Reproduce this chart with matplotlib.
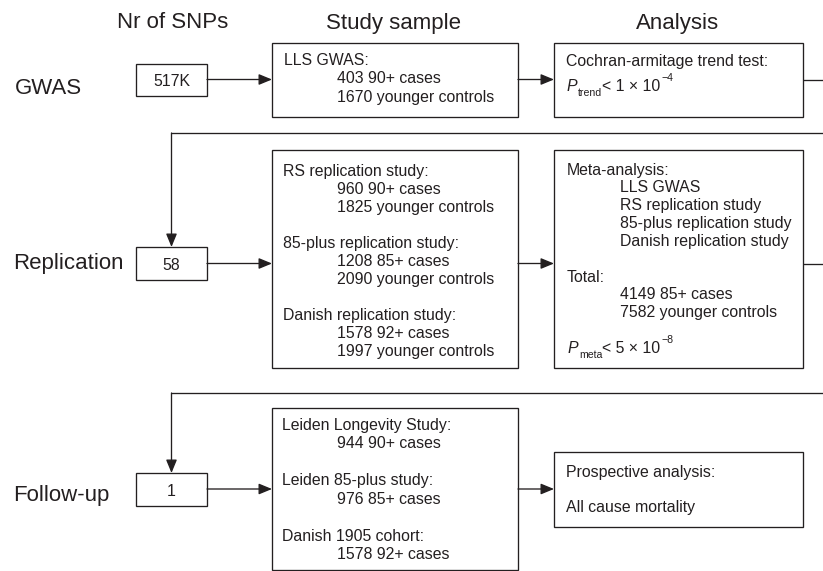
import matplotlib
matplotlib.use("Agg")
import matplotlib.pyplot as plt
from matplotlib.patches import Rectangle

# ---------------- content ----------------
column_headers = ["Nr of SNPs", "Study sample", "Analysis"]
row_labels = ["GWAS", "Replication", "Follow-up"]
snp_counts = ["517K", "58", "1"]

# "\t" marks an indented line, "" a blank line; a list of pieces is rich text
sample_gwas = ["LLS GWAS:", "\t403 90+ cases", "\t1670 younger controls"]
sample_replication = ["RS replication study:", "\t960 90+ cases", "\t1825 younger controls", "",
                      "85-plus replication study:", "\t1208 85+ cases", "\t2090 younger controls", "",
                      "Danish replication study:", "\t1578 92+ cases", "\t1997 younger controls"]
sample_followup = ["Leiden Longevity Study:", "\t944 90+ cases", "",
                   "Leiden 85-plus study:", "\t976 85+ cases", "",
                   "Danish 1905 cohort:", "\t1578 92+ cases"]
analysis_gwas = ["Cochran-armitage trend test:",
                 [("P", "it"), ("trend", "sub"), ("< 1 × 10", "rm"), ("\u22124", "sup")]]
analysis_replication = ["Meta-analysis:", "\tLLS GWAS", "\tRS replication study",
                        "\t85-plus replication study", "\tDanish replication study", "",
                        "Total:", "\t4149 85+ cases", "\t7582 younger controls", "",
                        [("P", "it"), ("meta", "sub"), ("< 5 × 10", "rm"), ("\u22128", "sup")]]
analysis_followup = ["Prospective analysis:", "", "All cause mortality"]

# ---------------- style ----------------
plt.rcParams["font.family"] = ["Liberation Sans", "DejaVu Sans"]

INK = "#231f20"
LW = 0.95
FS_BOX = 11.4
FS_SMALL = 7.6
FS_BIG = 16

W, H = 823, 571
fig = plt.figure(figsize=(W / 100, H / 100), dpi=100)
ax = fig.add_axes([0, 0, 1, 1])
ax.set_xlim(0, W)
ax.set_ylim(H, 0)
ax.axis("off")
renderer = fig.canvas.get_renderer()


def box(x0, y0, x1, y1):
    ax.add_patch(Rectangle((x0, y0), x1 - x0, y1 - y0, fill=False,
                           edgecolor=INK, lw=LW, joinstyle="miter"))


def arrow(x0, y0, x1, y1):
    ax.annotate("", xy=(x1, y1), xytext=(x0, y0),
                arrowprops=dict(arrowstyle="-|>,head_length=0.8,head_width=0.33",
                                color=INK, lw=LW, shrinkA=0, shrinkB=0,
                                mutation_scale=10))


def line(xs, ys):
    ax.plot(xs, ys, color=INK, lw=LW, solid_capstyle="butt", solid_joinstyle="miter")


def rich(x, yb, pieces):
    for txt, kind in pieces:
        if kind == "it":
            t = ax.text(x, yb, txt, fontsize=FS_BOX, style="italic", color=INK,
                        ha="left", va="baseline")
        elif kind == "sub":
            t = ax.text(x + 0.5, yb + 5, txt, fontsize=FS_SMALL, color=INK,
                        ha="left", va="baseline")
        elif kind == "sup":
            t = ax.text(x + 0.5, yb - 10, txt, fontsize=FS_SMALL, color=INK,
                        ha="left", va="baseline")
        else:
            t = ax.text(x, yb, txt, fontsize=FS_BOX, color=INK, ha="left", va="baseline")
        bb = t.get_window_extent(renderer=renderer)
        x = bb.x1


def box_text(lines, x_label, x_indent, y0, dy):
    for i, t in enumerate(lines):
        if not t:
            continue
        yb = y0 + i * dy + 5.7
        if isinstance(t, list):
            rich(x_label + 1, yb, t)
            continue
        x = x_indent if t.startswith("\t") else x_label
        ax.text(x, yb, t.lstrip("\t"), fontsize=FS_BOX, color=INK,
                ha="left", va="baseline")


# ---------------- headers & row labels ----------------
for txt, xc in zip(column_headers, [173, 394, 678]):
    ax.text(xc, 28.5, txt, fontsize=FS_BIG, color=INK, ha="center", va="baseline")

for txt, (xl, yb) in zip(row_labels, [(15, 93.5), (13, 268.5), (13, 501.5)]):
    ax.text(xl, yb, txt, fontsize=FS_BIG, color=INK, ha="left", va="baseline")

# ---------------- layout ----------------
snp_x0, snp_x1 = 136, 207
mid_x0, mid_x1 = 272, 518
ana_x0, ana_x1 = 554, 803
snp_cx = (snp_x0 + snp_x1) / 2

snp_boxes = [(64, 96), (247, 280), (473, 506)]
mid_boxes = [(43, 117), (150, 368), (408, 570)]
ana_boxes = [(43, 117), (150, 368), (452, 527)]
row_y = [79.5, 263.5, 489]

for (y0, y1), txt in zip(snp_boxes, snp_counts):
    box(snp_x0, y0, snp_x1, y1)
    ax.text(snp_cx, (y0 + y1) / 2 + 6.5, txt, fontsize=FS_BOX, color=INK,
            ha="center", va="baseline")

for (y0, y1) in mid_boxes:
    box(mid_x0, y0, mid_x1, y1)
for (y0, y1) in ana_boxes:
    box(ana_x0, y0, ana_x1, y1)

for ry in row_y:
    arrow(snp_x1, ry, mid_x0, ry)
    arrow(mid_x1, ry, ana_x0, ry)

# connectors running off the right edge and back to the next row
line([ana_x1, W + 5], [row_y[0], row_y[0]])
line([ana_x1, W + 5], [row_y[1], row_y[1]])
line([snp_cx, W + 5], [133, 133])
arrow(snp_cx, 133, snp_cx, snp_boxes[1][0])
line([snp_cx, W + 5], [393, 393])
arrow(snp_cx, 393, snp_cx, snp_boxes[2][0])

# ---------------- box texts ----------------
box_text(sample_gwas, 284, 337, 59, 18.5)
box_text(sample_replication, 283, 337, 170, 18.0)
box_text(sample_followup, 282, 337, 424, 18.5)
box_text(analysis_gwas, 566, 620, 60, 25)
box_text(analysis_replication, 567, 620, 169, 17.8)
box_text(analysis_followup, 566, 620, 471, 17.5)

fig.savefig("out.png", dpi=100)
